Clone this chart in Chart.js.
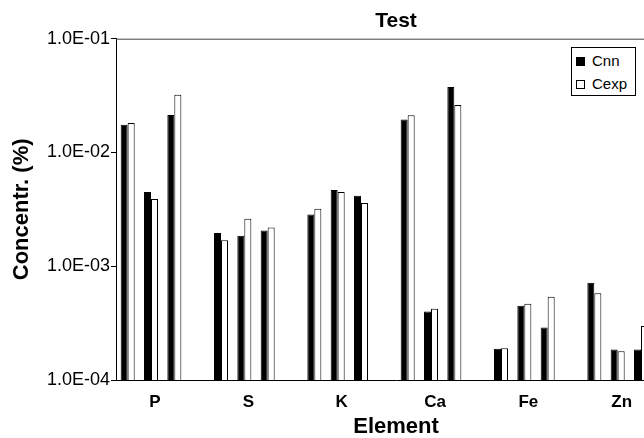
<!DOCTYPE html>
<html>
<head>
<meta charset="utf-8">
<script src="https://cdn.jsdelivr.net/npm/chart.js"></script>
<style>
  html, body { margin: 0; padding: 0; background: #fff; overflow: hidden; }
  #wrap { position: relative; width: 644px; height: 438px; overflow: hidden; }
  #legend {
    position: absolute; left: 571px; top: 47px; width: 63px; height: 47px;
    border: 1px solid #000; background: #fff;
    font-family: "Liberation Sans", Arial, sans-serif; font-size: 15px; color: #000;
  }
  #legend div { position: absolute; left: 4px; height: 18px; line-height: 18px; }
  #legend span.box { display: inline-block; width: 7px; height: 7px; border: 1px solid #000; margin-right: 7px; vertical-align: 0px; }
</style>
</head>
<body>
<div id="wrap">
  <canvas id="myChart" width="690" height="438"></canvas>
  <div id="legend">
    <div style="top:4px"><span class="box" style="background:#000"></span>Cnn</div>
    <div style="top:27px"><span class="box" style="background:#fff"></span>Cexp</div>
  </div>
</div>
<script>
// Elements, three samples each
const elements = ["P", "S", "K", "Ca", "Fe", "Zn"];
const samplesPerElement = 3;

// Concentrations (%), element by element
const cnnValues = [
  0.0175, 0.0045, 0.0213,
  0.00196, 0.00185, 0.00206,
  0.00285, 0.00468, 0.00417,
  0.0195, 0.00040, 0.0377,
  0.000188, 0.000449, 0.00029,
  0.000716, 0.000185, 0.000185
];
const cexpValues = [
  0.0182, 0.0039, 0.0322,
  0.00169, 0.00261, 0.00219,
  0.0032, 0.00449, 0.00359,
  0.0212, 0.000423, 0.0261,
  0.00019, 0.000467, 0.00054,
  0.00058, 0.000179, 0.000298
];

const yTicks = [1e-1, 1e-2, 1e-3, 1e-4];
const yTickLabels = ["1.0E-01", "1.0E-02", "1.0E-03", "1.0E-04"];

// each element gets its samples plus one empty slot
const slotLabels = [];
const cnnSlots = [];
const cexpSlots = [];
elements.forEach((el, i) => {
  for (let s = 0; s < samplesPerElement; s++) {
    slotLabels.push(s === 1 ? el : "");
    cnnSlots.push(cnnValues[i * samplesPerElement + s]);
    cexpSlots.push(cexpValues[i * samplesPerElement + s]);
  }
  slotLabels.push("");
  cnnSlots.push(null);
  cexpSlots.push(null);
});

// top / right frame of the plot
const frame = {
  id: "frame",
  afterDraw(chart) {
    const { ctx, chartArea } = chart;
    ctx.save();
    ctx.strokeStyle = "#444";
    ctx.lineWidth = 1;
    ctx.beginPath();
    ctx.moveTo(chartArea.left, chartArea.top + 0.5);
    ctx.lineTo(chartArea.right, chartArea.top + 0.5);
    ctx.lineTo(chartArea.right, chartArea.bottom);
    ctx.stroke();
    ctx.restore();
  }
};

const ctx = document.getElementById("myChart").getContext("2d");
new Chart(ctx, {
  type: "bar",
  data: {
    labels: slotLabels,
    datasets: [
      { label: "Cnn", data: cnnSlots, backgroundColor: "#000", borderColor: "#000", borderWidth: 1 },
      { label: "Cexp", data: cexpSlots, backgroundColor: "#fff", borderColor: "#000", borderWidth: 1 }
    ]
  },
  options: {
    responsive: false,
    animation: false,
    layout: { padding: { left: 0, right: 14, top: 0, bottom: 0 } },
    datasets: { bar: { categoryPercentage: 0.6, barPercentage: 1.0 } },
    plugins: {
      legend: { display: false },
      tooltip: { enabled: false },
      title: {
        display: true,
        text: "Test",
        fullSize: false,
        color: "#000",
        font: { family: "Liberation Sans", size: 21, weight: "bold", lineHeight: 1.2 },
        padding: { top: 9, bottom: 4.5 }
      }
    },
    scales: {
      x: {
        afterFit: (scale) => { scale.height = 58; },
        grid: { display: true, drawOnChartArea: false, drawTicks: false },
        border: { display: true, color: "#000", width: 1 },
        ticks: {
          autoSkip: false, maxRotation: 0, padding: 12, labelOffset: 4, color: "#000",
          font: { family: "Liberation Sans", size: 17, weight: "bold" }
        },
        title: {
          display: true, text: "Element", color: "#000",
          font: { family: "Liberation Sans", size: 22, weight: "bold", lineHeight: 1.0 },
          padding: { top: 0, bottom: 0 }
        }
      },
      y: {
        type: "logarithmic",
        min: 1e-4,
        max: 1e-1,
        afterFit: (scale) => { scale.width = 116; },
        afterBuildTicks: (scale) => { scale.ticks = yTicks.map(v => ({ value: v })); },
        grid: { drawOnChartArea: false, drawTicks: true, tickLength: 5, color: "#000" },
        border: { display: true, color: "#000", width: 1 },
        ticks: {
          padding: 1, color: "#000",
          font: { family: "Liberation Sans", size: 18 },
          callback: (v) => yTickLabels[yTicks.indexOf(v)]
        },
        title: {
          display: true, text: "Concentr. (%)", color: "#000",
          font: { family: "Liberation Sans", size: 22, weight: "bold", lineHeight: 1.2 },
          padding: { top: 9, bottom: 0 }
        }
      }
    }
  },
  plugins: [frame]
});
</script>
</body>
</html>
